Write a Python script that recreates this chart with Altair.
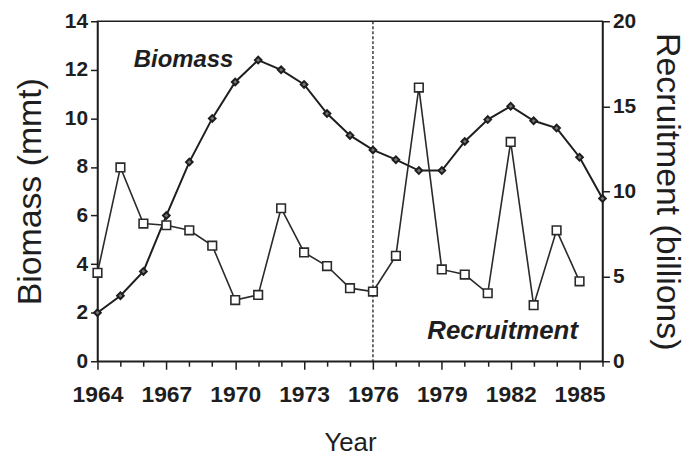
import altair as alt
import pandas as pd

years_b = list(range(1964, 1987))
biomass = [2.0, 2.7, 3.7, 6.0, 8.2, 10.0, 11.5, 12.4, 12.0, 11.4, 10.2, 9.3,
           8.7, 8.3, 7.85, 7.85, 9.05, 9.95, 10.5, 9.9, 9.6, 8.4, 6.7]
years_r = list(range(1964, 1986))
recruitment = [5.2, 11.4, 8.1, 8.0, 7.7, 6.8, 3.6, 3.9, 9.0, 6.4, 5.6, 4.3,
               4.1, 6.2, 16.1, 5.4, 5.1, 4.0, 12.9, 3.3, 7.7, 4.7]
regime_year = [1976]
x_ticks = list(range(1964, 1987))
left_ticks = [0, 2, 4, 6, 8, 10, 12, 14]
right_ticks = [0, 5, 10, 15, 20]

FONT = "Liberation Sans"
INK = "#1e1e1e"

df_b = pd.DataFrame({"Year": years_b, "Biomass": biomass})
df_r = pd.DataFrame({"Year": years_r, "Recruitment": recruitment})
df_rule = pd.DataFrame({"Year": regime_year})
df_lb = pd.DataFrame({"Year": [1967.75], "Biomass": [12.4], "t": ["Biomass"]})
df_lr = pd.DataFrame({"Year": [1981.65], "Recruitment": [1.75], "t": ["Recruitment"]})

xscale = alt.Scale(domain=[1964, 1986], nice=False, zero=False)
xaxis = alt.Axis(
    values=x_ticks,
    title="Year",
    labelExpr="datum.value % 3 == 2 ? format(datum.value, 'd') : ''",
    labelOverlap=False,
    labelFlush=False,
    labelBound=False,
    tickSize={"condition": {"test": "datum.value % 3 == 2", "value": 8}, "value": 5},
    labelPadding=14,
    labelFontSize=23,
    titlePadding=24,
    titleFontSize=26,
)
X = alt.X("Year:Q", scale=xscale, axis=xaxis)

yl = alt.Y("Biomass:Q", scale=alt.Scale(domain=[0, 14], nice=False),
           axis=alt.Axis(values=left_ticks, title="Biomass (mmt)", orient="left",
                         titlePadding=17, labelPadding=3))
yr = alt.Y("Recruitment:Q", scale=alt.Scale(domain=[0, 20], nice=False),
           axis=alt.Axis(values=right_ticks, title="Recruitment (billions)", orient="right",
                         titlePadding=14, labelPadding=3))

rule = alt.Chart(df_rule).mark_rule(color=INK, strokeDash=[3, 2], strokeWidth=1.3).encode(x=X)

b_line = alt.Chart(df_b).mark_line(color=INK, strokeWidth=2).encode(x=X, y=yl)
b_pts = alt.Chart(df_b).mark_point(shape="diamond", filled=False, color=INK,
                                   strokeWidth=2, size=45, fill="#777", fillOpacity=1).encode(x=X, y=yl)
b_txt = alt.Chart(df_lb).mark_text(font=FONT, fontSize=24, fontStyle="italic",
                                   fontWeight="bold", color=INK).encode(x=X, y=yl, text="t:N")
left = alt.layer(rule, b_line, b_pts, b_txt)

r_line = alt.Chart(df_r).mark_line(color="#2a2a2a", strokeWidth=1.6).encode(x=X, y=yr)
r_pts = alt.Chart(df_r).mark_point(shape="square", filled=False, color="#2a2a2a",
                                   strokeWidth=1.6, size=75, fill="white", fillOpacity=1).encode(x=X, y=yr)
r_txt = alt.Chart(df_lr).mark_text(font=FONT, fontSize=26, fontStyle="italic",
                                   fontWeight="bold", color=INK).encode(x=X, y=yr, text="t:N")
right = alt.layer(r_line, r_pts, r_txt)

chart = alt.layer(left, right).resolve_scale(y="independent").properties(
    width=508, height=342,
    autosize=alt.AutoSizeParams(type="none"),
    padding={"left": 90, "top": 12, "right": 86, "bottom": 96},
    background="white",
).configure_view(stroke=INK, strokeWidth=1.5).configure_axis(
    labelFont=FONT, titleFont=FONT, labelFontSize=21, labelFontWeight="bold",
    titleFontSize=34, titleFontWeight="normal", labelColor=INK, titleColor=INK,
    domainColor=INK, tickColor=INK, domainWidth=1.5, tickWidth=1.5, grid=False,
    tickSize=7, labelOverlap=False,
)

chart.save("out.html", embed_options={"renderer": "svg", "actions": False})
